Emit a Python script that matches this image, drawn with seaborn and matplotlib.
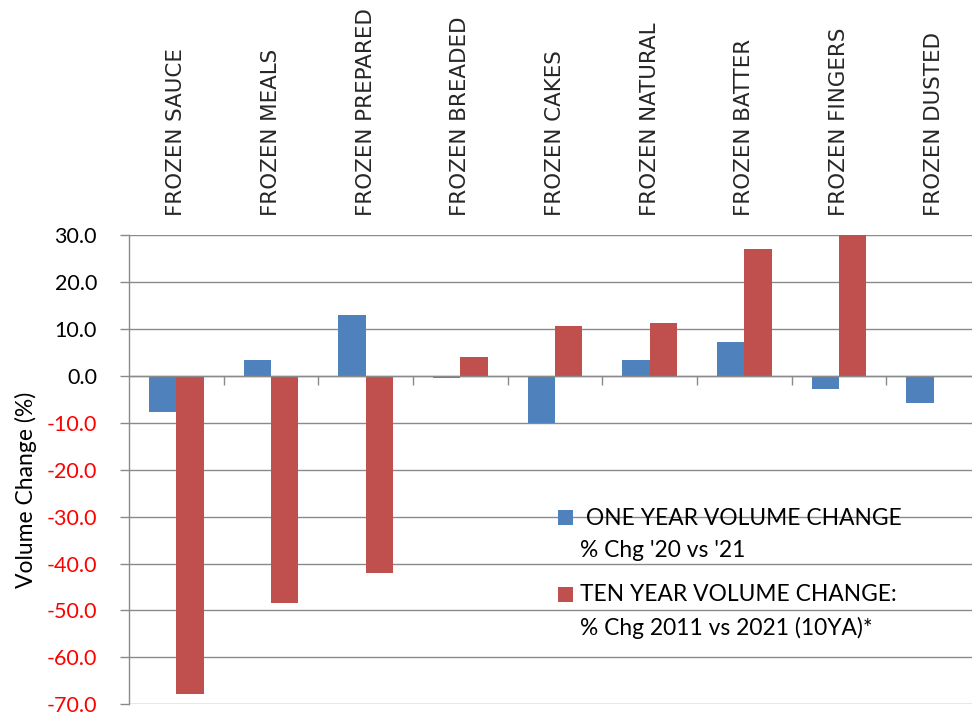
import numpy as np
import pandas as pd
import matplotlib
matplotlib.use("Agg")
import matplotlib.pyplot as plt
from matplotlib.patches import Rectangle
from matplotlib.ticker import FixedLocator
import seaborn as sns

# Product categories (left to right)
categories = [
    "FROZEN SAUCE", "FROZEN MEALS", "FROZEN PREPARED", "FROZEN BREADED",
    "FROZEN CAKES", "FROZEN NATURAL", "FROZEN BATTER", "FROZEN FINGERS",
    "FROZEN DUSTED",
]
# Volume change in percent
one_year_change = [-7.8, 3.4, 12.9, -0.5, -10.1, 3.3, 7.2, -2.8, -5.7]
ten_year_change = [-67.9, -48.4, -42.0, 4.0, 10.6, 11.2, 27.1, 30.0, np.nan]

series_keys = ["one_year", "ten_year"]
series_labels = [
    " ONE YEAR VOLUME CHANGE\n% Chg '20 vs '21",
    "TEN YEAR VOLUME CHANGE:\n% Chg 2011 vs 2021 (10YA)*",
]
series_colors = ["#4F81BD", "#C0504D"]
y_ticks = [-70, -60, -50, -40, -30, -20, -10, 0, 10, 20, 30]
y_label = "Volume Change (%)"

df = pd.DataFrame({
    "category": categories * 2,
    "series": [series_keys[0]] * len(categories) + [series_keys[1]] * len(categories),
    "value": one_year_change + ten_year_change,
})

sns.set_theme(style="white")
plt.rcParams["font.family"] = ["Lato", "DejaVu Sans"]

W, H = 972, 715
fig = plt.figure(figsize=(W / 100, H / 100), dpi=100)
fig.patch.set_facecolor("white")
ax = fig.add_axes([129 / W, 10.7 / H, 852 / W, 469.3 / H])

grid_gray = "#8a8a8a"
palette = dict(zip(series_keys, series_colors))

sns.barplot(
    data=df, x="category", y="value", hue="series",
    order=categories, hue_order=series_keys, palette=palette,
    saturation=1, width=0.575, edgecolor="none", legend=False, ax=ax,
)

ax.set_xlim(-0.5, len(categories) - 0.5)
ax.set_ylim(y_ticks[0], y_ticks[-1])
ax.set_xlabel("")
ax.set_ylabel("")

# y axis: gridlines, outward ticks, red negative labels
ax.set_yticks(y_ticks)
ax.set_yticklabels([f"{v:.1f}" for v in y_ticks])
for lab, v in zip(ax.get_yticklabels(), y_ticks):
    lab.set_color("#FF0000" if v < 0 else "black")
ax.tick_params(axis="y", which="major", left=True, length=6.5, width=1.0,
               color=grid_gray, direction="out", pad=16.5, labelsize=15.5)
ax.yaxis.grid(True, color=grid_gray, linewidth=1.0)
ax.set_axisbelow(True)

# x axis: category names on top, boundary ticks on the zero line
ax.xaxis.set_minor_locator(FixedLocator(np.arange(0.5, len(categories) - 1, 1.0)))
ax.tick_params(axis="x", which="major", bottom=False, top=False,
               labelbottom=False, labeltop=True, length=0, pad=14,
               labelsize=15.4, labelrotation=90, labelfontfamily="DejaVu Sans")
ax.tick_params(axis="x", which="minor", bottom=True, top=False,
               direction="out", length=6.3, width=1.0, color=grid_gray)

for side in ("top", "right"):
    ax.spines[side].set_visible(False)
ax.spines["left"].set_color(grid_gray)
ax.spines["left"].set_linewidth(1.0)
ax.spines["bottom"].set_position(("data", 0))
ax.spines["bottom"].set_color(grid_gray)
ax.spines["bottom"].set_linewidth(1.0)
ax.spines["bottom"].set_zorder(3)

# y axis title
fig.text(26 / W, 1 - 490 / H, y_label, rotation=90, ha="center", va="center",
         fontsize=16.5, color="black")

# legend: square swatch beside the first line of each two-line entry
legend_rows = [(510, 525, 557), (587, 601, 635)]
for (sq_top, base1, base2), label, color in zip(legend_rows, series_labels, series_colors):
    first, second = label.split("\n")
    fig.patches.append(Rectangle((558 / W, 1 - (sq_top + 15) / H), 15 / W, 15 / H,
                                 transform=fig.transFigure, facecolor=color,
                                 edgecolor="none"))
    fig.text(580 / W, 1 - base1 / H, first, ha="left", va="baseline",
             fontsize=16.4, color="black")
    fig.text(580 / W, 1 - base2 / H, second, ha="left", va="baseline",
             fontsize=16.4, color="black")

fig.savefig("out.png", dpi=100, facecolor="white")
